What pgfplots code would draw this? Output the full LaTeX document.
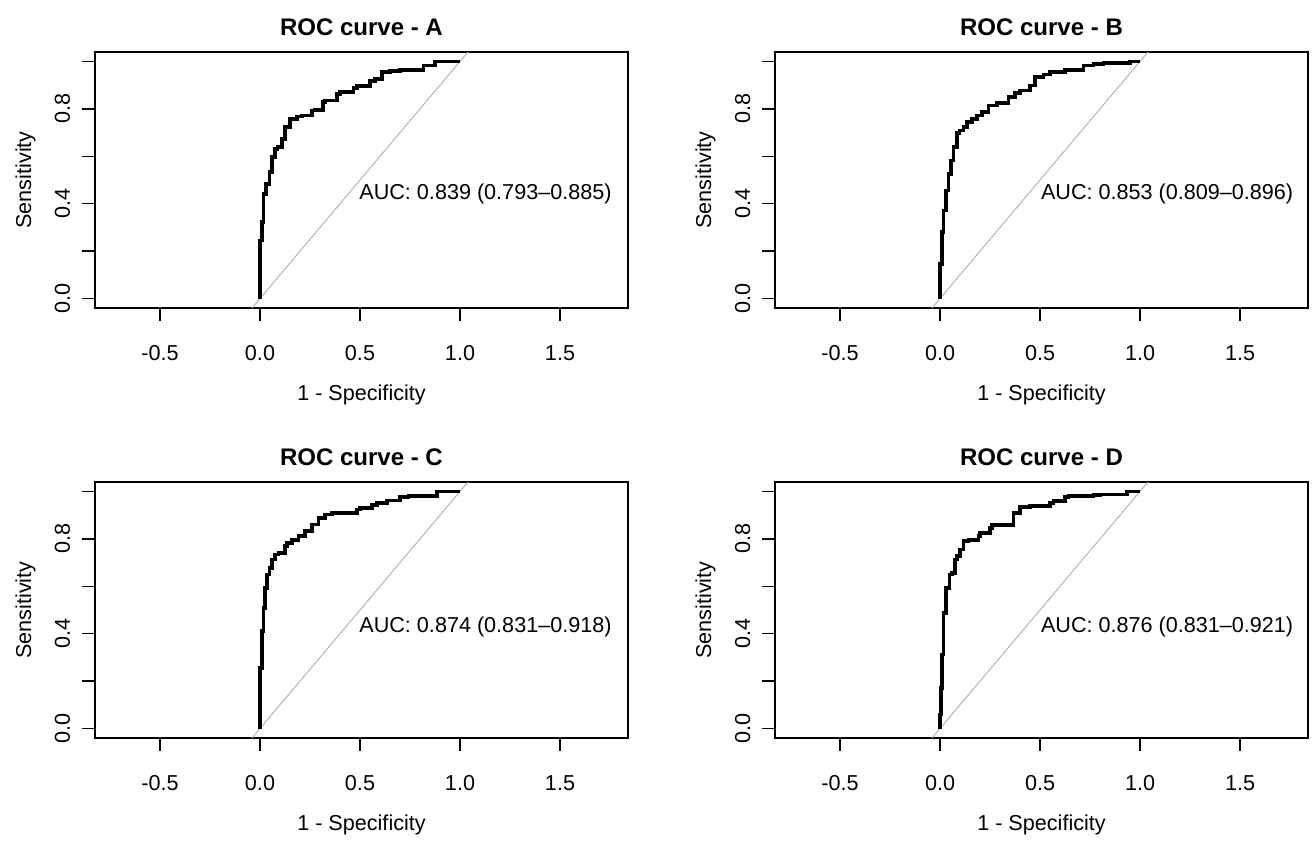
\documentclass[border=0pt]{standalone}
\usepackage{fontspec}
\setmainfont{Liberation Sans}
\usepackage{pgfplots}
\pgfplotsset{compat=1.18}
\definecolor{diag}{HTML}{B4B4B4}

\newcommand{\lab}{\fontsize{10.8bp}{13bp}\selectfont}

\pgfplotsset{
  roc/.style={
    scale only axis, width=266.5bp, height=128bp,
    anchor=north west,
    xmin=-0.825, xmax=1.84, ymin=-0.04, ymax=1.04,
    xtick={-0.5,0,0.5,1,1.5}, xticklabels={-0.5,0.0,0.5,1.0,1.5},
    ytick={0,0.2,0.4,0.6,0.8,1}, yticklabels={0.0,{},0.4,{},0.8,{}},
    tick align=outside, tick pos=left,
    major tick length=6.5bp,
    axis line style={line width=0.75bp},
    every tick/.style={black, line width=0.75bp},
    tick label style={font=\lab, inner sep=0pt},
    xticklabel style={anchor=base, yshift=-19.5bp},
    yticklabel style={rotate=90, anchor=base, yshift=6bp},
    label style={font=\lab, inner sep=0pt},
    xlabel={1 - Specificity},
    ylabel={Sensitivity},
    xlabel style={at={(rel axis cs:0.5,0)}, anchor=base, yshift=-46bp},
    ylabel style={at={(rel axis cs:0,0.5)}, anchor=base, yshift=32bp},
    every axis title shift=0pt,
    title style={at={(rel axis cs:0.5,1)}, anchor=base, yshift=8.2bp,
      font=\bfseries\fontsize{12bp}{14bp}\selectfont, inner sep=0pt},
  },
  curve/.style={black, line width=1.9bp, const plot mark right},
  chance/.style={diag, line width=0.5bp},
}

\begin{document}
\begin{tikzpicture}
\useasboundingbox (0,0) rectangle (657bp,-420.5bp);

% A
\begin{axis}[roc, at={(47.5bp,-26bp)}, title={ROC curve - A}]
\addplot[chance] coordinates {(-0.04,-0.04) (1.04,1.04)};
\addplot[curve] coordinates {
(0,0) (0,0.16) (0.008,0.245) (0.017,0.322) (0.03,0.44) (0.047,0.484)
(0.058,0.534) (0.075,0.596) (0.087,0.632) (0.108,0.64) (0.125,0.674)
(0.15,0.723) (0.183,0.758) (0.208,0.768) (0.258,0.772) (0.275,0.793)
(0.313,0.796) (0.325,0.828) (0.383,0.835) (0.4,0.863) (0.467,0.87)
(0.483,0.889) (0.55,0.898) (0.575,0.917) (0.608,0.927) (0.65,0.955)
(0.7,0.959) (0.817,0.965) (0.875,0.983) (0.9,1.0) (1.0,1.0)};
\node[anchor=west, inner sep=0pt, font=\lab] at (axis cs:0.495,0.44) {AUC: 0.839 (0.793–0.885)};
\end{axis}

% B
\begin{axis}[roc, at={(387.5bp,-26bp)}, title={ROC curve - B}]
\addplot[chance] coordinates {(-0.04,-0.04) (1.04,1.04)};
\addplot[curve] coordinates {
(0,0) (0.008,0.146) (0.017,0.279) (0.03,0.371) (0.042,0.456) (0.055,0.526)
(0.067,0.582) (0.083,0.638) (0.097,0.698) (0.117,0.709) (0.133,0.723)
(0.158,0.744) (0.183,0.758) (0.208,0.772) (0.242,0.786) (0.283,0.814)
(0.342,0.824) (0.375,0.85) (0.4,0.866) (0.45,0.878) (0.475,0.899)
(0.517,0.934) (0.55,0.945) (0.625,0.955) (0.717,0.965) (0.767,0.983)
(0.817,0.99) (0.95,0.993) (0.967,1.0) (1.0,1.0)};
\node[anchor=west, inner sep=0pt, font=\lab] at (axis cs:0.503,0.44) {AUC: 0.853 (0.809–0.896)};
\end{axis}

% C
\begin{axis}[roc, at={(47.5bp,-241bp)}, title={ROC curve - C}]
\addplot[chance] coordinates {(-0.04,-0.04) (1.04,1.04)};
\addplot[curve] coordinates {
(0,0) (0,0.143) (0.008,0.255) (0.017,0.41) (0.025,0.509) (0.033,0.594)
(0.047,0.65) (0.058,0.678) (0.075,0.713) (0.092,0.734) (0.125,0.741)
(0.133,0.769) (0.158,0.783) (0.192,0.797) (0.225,0.811) (0.258,0.832)
(0.292,0.861) (0.325,0.889) (0.358,0.903) (0.483,0.91) (0.5,0.924)
(0.558,0.931) (0.583,0.942) (0.633,0.952) (0.7,0.962) (0.742,0.976)
(0.883,0.98) (0.908,1.0) (1.0,1.0)};
\node[anchor=west, inner sep=0pt, font=\lab] at (axis cs:0.495,0.43) {AUC: 0.874 (0.831–0.918)};
\end{axis}

% D
\begin{axis}[roc, at={(387.5bp,-241bp)}, title={ROC curve - D}]
\addplot[chance] coordinates {(-0.04,-0.04) (1.04,1.04)};
\addplot[curve] coordinates {
(0,0) (0.003,0.059) (0.008,0.172) (0.017,0.312) (0.03,0.488) (0.047,0.594)
(0.058,0.65) (0.075,0.657) (0.083,0.713) (0.1,0.727) (0.117,0.755)
(0.142,0.79) (0.192,0.797) (0.2,0.811) (0.25,0.825) (0.258,0.846)
(0.308,0.857) (0.367,0.86) (0.4,0.91) (0.45,0.934) (0.55,0.938)
(0.567,0.952) (0.625,0.959) (0.642,0.976) (0.767,0.98) (0.8,0.984)
(0.933,0.987) (0.95,1.0) (1.0,1.0)};
\node[anchor=west, inner sep=0pt, font=\lab] at (axis cs:0.503,0.43) {AUC: 0.876 (0.831–0.921)};
\end{axis}
\end{tikzpicture}
\end{document}
